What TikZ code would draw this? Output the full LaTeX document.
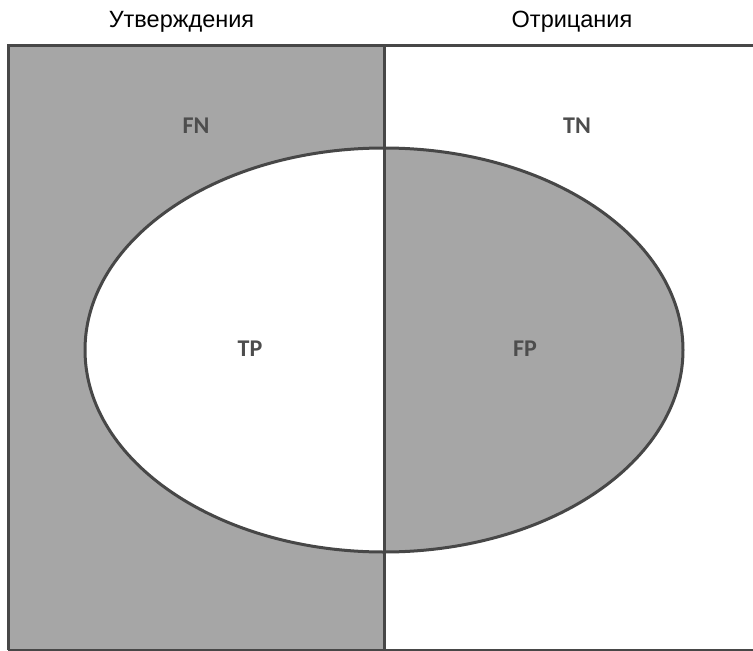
\documentclass[tikz,border=0pt]{standalone}
\usepackage{fontspec}
\setmainfont{Liberation Sans}
\newfontfamily\lblfont{Carlito}
\definecolor{greyfill}{HTML}{A6A6A6}
\definecolor{edgegrey}{HTML}{474747}
\definecolor{lblgrey}{HTML}{4D4D4D}
\tikzset{
  header/.style={font=\fontsize{23.5}{25}\selectfont, text=black, anchor=base},
  region/.style={font=\lblfont\bfseries\fontsize{24}{26}\selectfont, text=lblgrey},
  outline/.style={draw=edgegrey, line width=3pt},
}
\begin{document}
\begin{tikzpicture}[x=1pt,y=-1pt]
\useasboundingbox (0,0) rectangle (753,651);
% fills
\fill[greyfill] (8,45) rectangle (384,651);
\fill[white] (384,45) rectangle (760,651);
\fill[white] (384,148) arc[start angle=90, end angle=270, x radius=299, y radius=-202] -- cycle;
\begin{scope}
\clip (384,140) rectangle (700,560);
\fill[greyfill] (384,350) ellipse[x radius=299, y radius=202];
\end{scope}
% outlines
\draw[outline] (384,350) ellipse[x radius=299, y radius=202];
\draw[outline] (8,650) -- (8,45) -- (760,45);
\draw[outline] (8,650) -- (760,650);
\coordinate (divtop) at (384,45);
\coordinate (divbot) at (384,651);
\draw[outline] (divtop) -- (divbot);
% headers
\node[header] (pos) at (181.5,27) {Утверждения};
\node[header] (neg) at (572,27) {Отрицания};
% region labels
\node[region] (fn) at (196,126) {FN};
\node[region] (tn) at (577,126) {TN};
\node[region] (tp) at (250,349) {TP};
\node[region] (fp) at (525,349) {FP};
\end{tikzpicture}
\end{document}
